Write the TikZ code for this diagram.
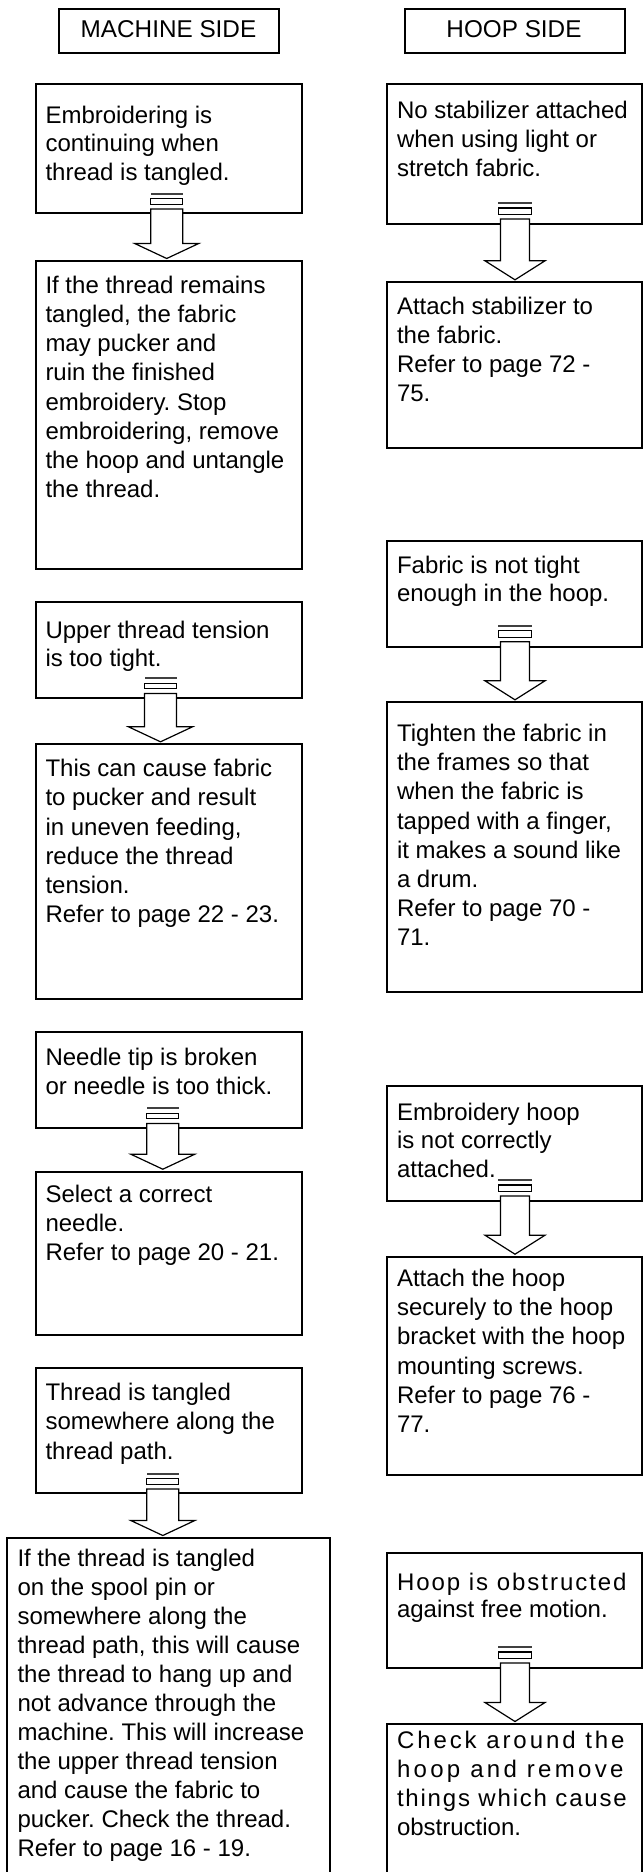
\documentclass[tikz,border=0pt]{standalone}
\usepackage{fontspec}
\setmainfont{Liberation Sans}
\usetikzlibrary{calc}
\frenchspacing
\newcommand{\boxlines}[1]{\begin{tabular}[t]{@{}l@{}}#1\end{tabular}}
\newcommand{\lspaced}[2]{{\addfontfeatures{LetterSpace=#1}#2}}
\tikzset{
  box/.style={draw, line width=2pt, anchor=north west, inner sep=0pt, outer sep=0pt},
  txt/.style={anchor=base west, inner sep=0pt, outer sep=0pt, font=\fontsize{24}{29}\selectfont\frenchspacing},
  ttl/.style={anchor=base, inner sep=0pt, outer sep=0pt, font=\fontsize{24.3}{29}\selectfont},
  thinbar/.style={fill=black!75},
  arrowline/.style={draw, line width=1.2pt, line join=miter},
}
\newcommand\bx[5]{\node[box, minimum width=#4pt, minimum height=#5pt] (#1) at (#2,#3) {};}
% arrow dimensions (set per column)
\newcommand\setarrowdims[8]{%
  \def\ash{#1}\def\abh{#2}\def\ahw{#3}\def\ahh{#4}%
  \def\athin{#5}\def\abt{#6}\def\abb{#7}\def\ast{#8}}
% #1 src node, #2 dst node, #3 centre x
\newcommand\blockarrow[3]{%
  \coordinate (cx) at (#3,0);
  \coordinate (st) at (cx |- #1.south);
  \coordinate (tp) at (cx |- #2.north);
  \fill[thinbar] ($(st)+(-\abh,-\athin-0.85)$) rectangle ($(st)+(\abh,-\athin+0.85)$);
  \draw[arrowline, fill=white] ($(st)+(-\abh,-\abt)$) rectangle ($(st)+(\abh,-\abb)$);
  \draw[arrowline, fill=white] ($(st)+(-\ash,-\ast)$) -- ($(st)+(\ash,-\ast)$)
     -- ($(tp)+(\ash,-2.5-\ahh)$) -- ($(tp)+(\ahw,-2.5-\ahh)$) -- ($(tp)+(0,-2.5)$)
     -- ($(tp)+(-\ahw,-2.5-\ahh)$) -- ($(tp)+(-\ash,-2.5-\ahh)$) -- cycle;
}
\begin{document}
\begin{tikzpicture}[x=1pt, y=-1pt]
\useasboundingbox (0,0) rectangle (643,1872);
\fill[white] (0,0) rectangle (643,1872);
\clip (0,0) rectangle (643,1872);

% titles
\bx{T1}{59}{9.3}{220}{44}
\bx{T2}{404.7}{9.3}{220.6}{44}
\node[ttl] (T1t) at (168.5,37.7) {MACHINE SIDE};
\node[ttl] (T2t) at (514,37.7) {HOOP SIDE};

% left column
\bx{L1}{35.7}{84.3}{266}{129}
\bx{L2}{35.7}{261}{266}{308.3}
\bx{L3}{35.7}{601.7}{266}{96}
\bx{L4}{35.7}{744.3}{266}{254.7}
\bx{L5}{35.7}{1031.5}{266}{96.2}
\bx{L6}{35.7}{1171.7}{266}{163.3}
\bx{L7}{35.7}{1367.7}{266}{125.6}
\bx{L8}{7.3}{1538}{322.4}{360}

% right column
\bx{R1}{387}{84.3}{255}{139.7}
\bx{R2}{387}{282.3}{255}{166}
\bx{R3}{387}{541}{255}{105.7}
\bx{R4}{387}{702.3}{255}{290}
\bx{R5}{387}{1085.7}{255}{115.3}
\bx{R6}{387}{1256.7}{255}{218.3}
\bx{R7}{387}{1553.3}{255}{114.7}
\bx{R8}{387}{1724}{255}{200}

% texts left
\node[txt, font=\fontsize{24}{28.4}\selectfont] (L1t) at (45.5,123.3) {\boxlines{Embroidering is\\continuing when\\thread is tangled.}};
\node[txt, font=\fontsize{24}{29.2}\selectfont] (L2t) at (45.5,293.3) {\boxlines{If the thread remains\\tangled, the fabric\\may pucker and\\ruin the finished\\embroidery. Stop\\embroidering, remove\\the hoop and untangle\\the thread.}};
\node[txt, font=\fontsize{24}{28.4}\selectfont] (L3t) at (45.5,638.3) {\boxlines{Upper thread tension\\is too tight.}};
\node[txt, font=\fontsize{24}{29.2}\selectfont] (L4t) at (45.5,776.7) {\boxlines{This can cause fabric\\to pucker and result\\in uneven feeding,\\reduce the thread\\tension.\\Refer to page 22 - 23.}};
\node[txt, font=\fontsize{24}{29.3}\selectfont] (L5t) at (45.5,1065) {\boxlines{Needle tip is broken\\or needle is too thick.}};
\node[txt, font=\fontsize{24}{29.3}\selectfont] (L6t) at (45.5,1202.3) {\boxlines{Select a correct\\needle.\\Refer to page 20 - 21.}};
\node[txt, font=\fontsize{24}{29.5}\selectfont] (L7t) at (45.5,1400) {\boxlines{Thread is tangled\\somewhere along the\\thread path.}};
\node[txt, font=\fontsize{24}{29}\selectfont] (L8t) at (17.5,1566.7) {\boxlines{If the thread is tangled\\on the spool pin or\\somewhere along the\\thread path, this will cause\\the thread to hang up and\\not advance through the\\machine. This will increase\\the upper thread tension\\and cause the fabric to\\pucker. Check the thread.\\Refer to page 16 - 19.}};

% texts right
\node[txt, font=\fontsize{24}{29.2}\selectfont] (R1t) at (397,118.3) {\boxlines{No stabilizer attached\\when using light or\\stretch fabric.}};
\node[txt, font=\fontsize{24}{29.1}\selectfont] (R2t) at (397,314.3) {\boxlines{Attach stabilizer to\\the fabric.\\Refer to page 72 -\\75.}};
\node[txt, font=\fontsize{24}{28.4}\selectfont] (R3t) at (397,573.3) {\boxlines{Fabric is not tight\\enough in the hoop.}};
\node[txt, font=\fontsize{24}{29.1}\selectfont] (R4t) at (397,741.7) {\boxlines{Tighten the fabric in\\the frames so that\\when the fabric is\\tapped with a finger,\\it makes a sound like\\a drum.\\Refer to page 70 -\\71.}};
\node[txt, font=\fontsize{24}{28.8}\selectfont] (R5t) at (397,1120) {\boxlines{Embroidery hoop\\is not correctly\\attached.}};
\node[txt, font=\fontsize{24}{29.1}\selectfont] (R6t) at (397,1286.7) {\boxlines{Attach the hoop\\securely to the hoop\\bracket with the hoop\\mounting screws.\\Refer to page 76 -\\77.}};
\node[txt, font=\fontsize{24}{27.3}\selectfont] (R7t) at (397,1590) {\boxlines{\lspaced{8.2}{Hoop is obstructed}\\against free motion.}};
\node[txt, font=\fontsize{24}{28.9}\selectfont] (R8t) at (397,1748.3) {\boxlines{\lspaced{12.2}{Check around the}\\\lspaced{13.8}{hoop and remove}\\\lspaced{7.5}{things which cause}\\obstruction.}};

% arrows, left column
\setarrowdims{16}{16}{32}{15}{19.5}{14.6}{9}{4.3}
\blockarrow{L1}{L2}{166.7}
\blockarrow{L3}{L4}{160.5}
\blockarrow{L5}{L6}{162.8}
\blockarrow{L7}{L8}{162.8}
% arrows, right column
\setarrowdims{14.5}{16.7}{30}{19}{21}{16}{9.5}{5}
\blockarrow{R1}{R2}{515}
\blockarrow{R3}{R4}{515}
\blockarrow{R5}{R6}{515}
\blockarrow{R7}{R8}{515}
\end{tikzpicture}
\end{document}
